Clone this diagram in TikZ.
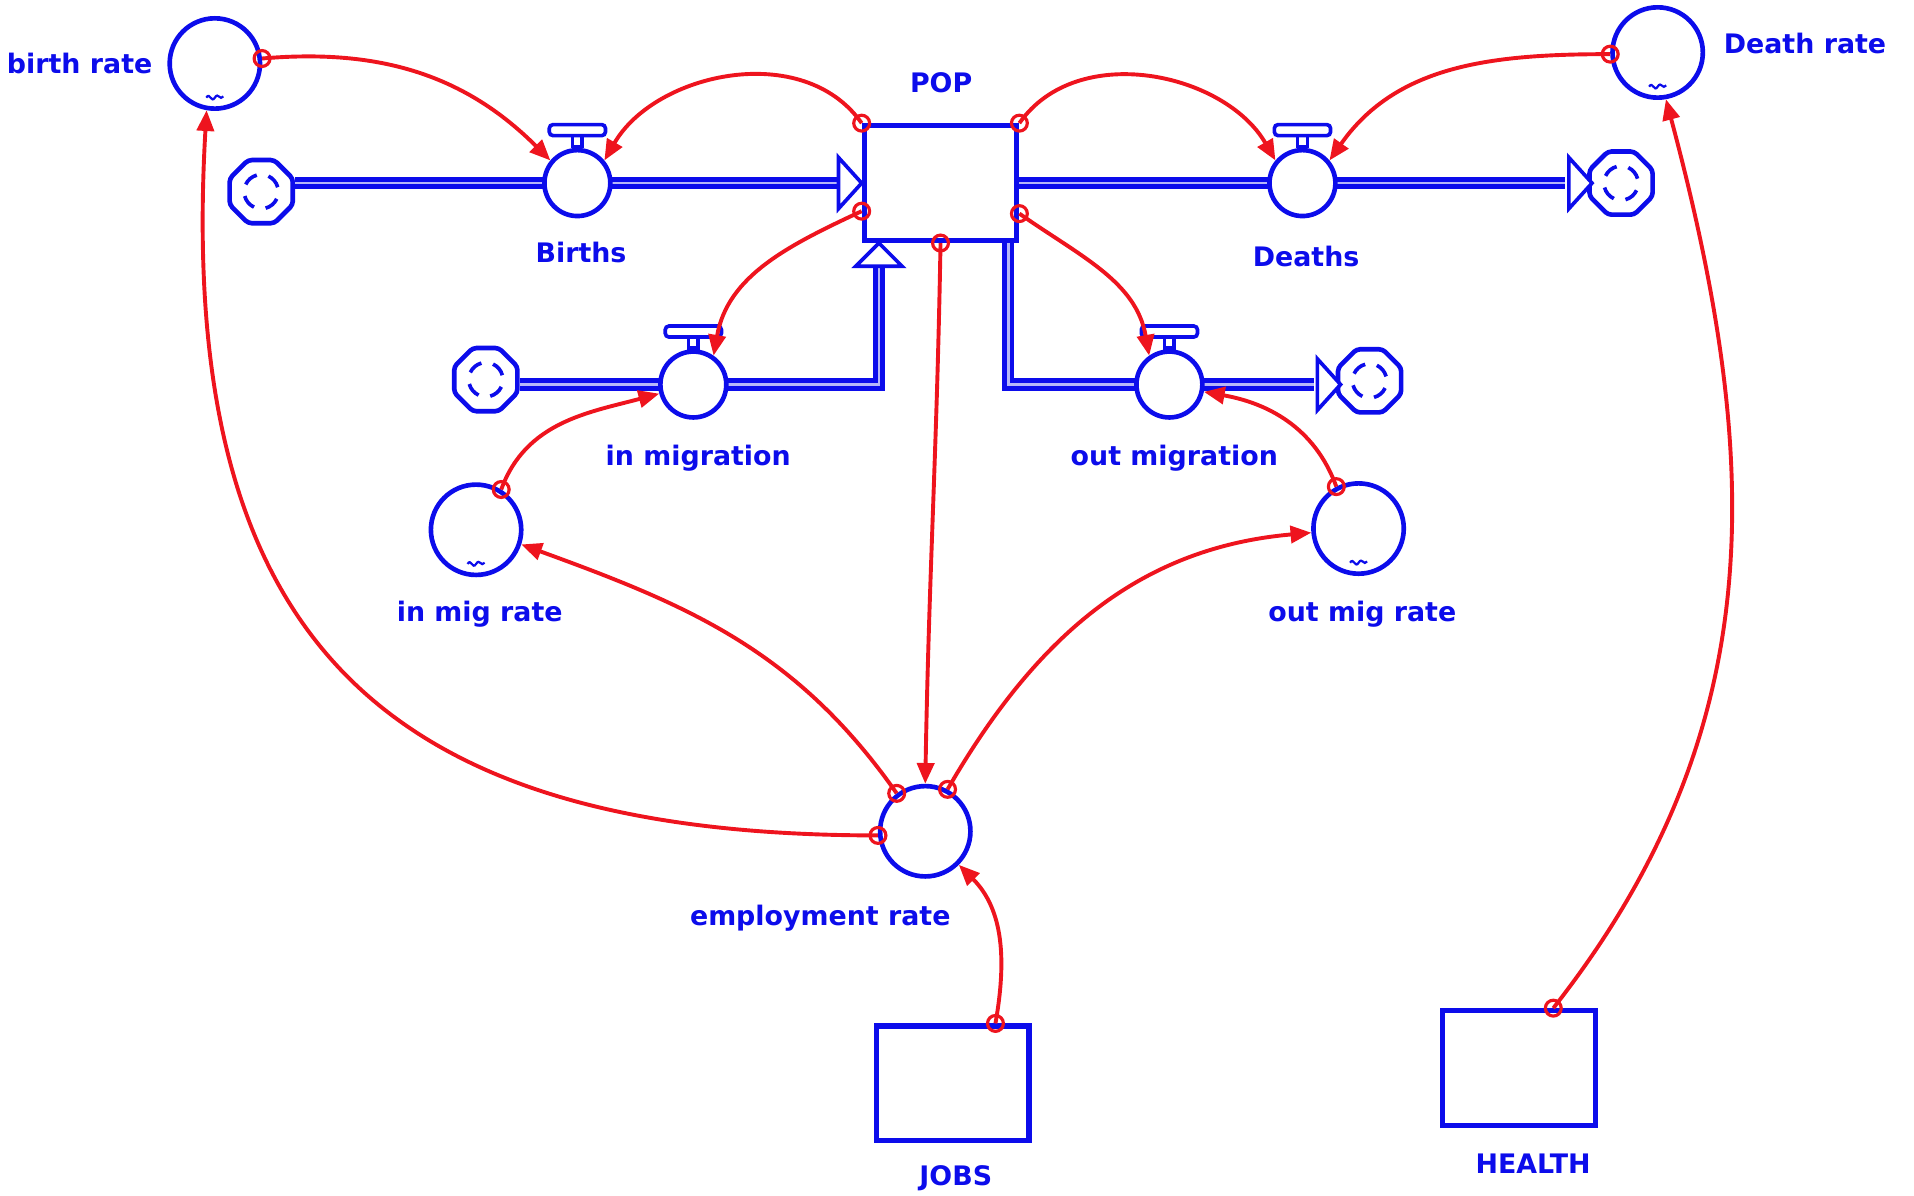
\documentclass[tikz,border=0pt]{standalone}
\usepackage{fontspec}
\setmainfont{DejaVu Sans}
\usetikzlibrary{arrows.meta,shapes.geometric,calc}
\definecolor{sdblue}{RGB}{12,12,235}
\definecolor{sdred}{RGB}{238,20,30}
\newcommand\startdot[1]{\draw[sdred,line width=2.6pt] (#1) circle (6.5pt);}
\newcommand\auxtilde[1]{\draw[sdblue,line width=1.8pt] ($(#1.center)+(-7,-28)$) .. controls +(3,5) and +(-3,-5) .. +(7,0) .. controls +(3,5) and +(-3,-4) .. +(14,1);}
\begin{document}
\begin{tikzpicture}[x=1pt,y=1pt,
  aux/.style={circle,draw=sdblue,line width=3.8pt,fill=white,minimum size=74pt,inner sep=0pt},
  valve/.style={circle,draw=sdblue,line width=3.8pt,fill=white,minimum size=54pt,inner sep=0pt},
  stock/.style={rectangle,draw=sdblue,line width=4.2pt,fill=white,minimum width=125pt,minimum height=94pt,inner sep=0pt},
  cloud/.style={regular polygon,regular polygon sides=8,draw=sdblue,line width=3.8pt,fill=white,minimum size=56pt,inner sep=0pt,rounded corners=3pt},
  lbl/.style={text=sdblue,font=\bfseries\fontsize{22}{26}\selectfont,inner sep=0pt},
  pipe/.style={draw=sdblue,line width=4pt,double=white!70!sdblue,double distance=2pt},
  tri/.style={draw=sdblue,line width=3pt,fill=white,line join=miter},
  conn/.style={draw=sdred,line width=3.2pt,-{Triangle[length=17pt,width=14pt]}},
  swirl/.style={draw=sdblue,line width=3pt},
  part/.style={draw=sdblue,line width=3pt,fill=white}
]
\useasboundingbox (0,0) rectangle (1568,-979);

% stocks
\node[stock] (pop) at (770.5,-150) {};
\node[stock] (jobs) at (780.5,-887.5) {};
\node[stock] (health) at (1244.5,-875) {};

% clouds
\node[cloud] (cb) at (214,-157) {};
\node[cloud] (cd) at (1328,-150) {};
\node[cloud] (cim) at (398,-311) {};
\node[cloud] (com) at (1122,-312) {};
\foreach \c in {cb,cd,cim,com}{
  \foreach \a in {15,105,195,285}{
    \draw[swirl] ($(\c.center)+(\a:14)$) arc (\a:\a+50:14);
  }
}

% auxiliaries
\node[aux] (br) at (176,-52) {};
\node[aux] (dr) at (1358,-43) {};
\node[aux] (imr) at (390,-434) {};
\node[aux] (omr) at (1113,-433) {};
\node[aux] (er) at (758,-681) {};
\auxtilde{br}\auxtilde{dr}\auxtilde{imr}\auxtilde{omr}

% flow coordinates
\coordinate (imc) at (720,-315);
\coordinate (omc) at (826,-315);
\coordinate (vbp) at (473,-150);
\coordinate (vdp) at (1067,-150);

% pipes
\draw[pipe] (cb.east |- vbp) -- ([xshift=-18pt]pop.west |- vbp);
\draw[tri] (pop.west |- vbp) -- ++(-19,21) -- ++(0,-42) -- cycle;
\draw[pipe] (pop.east |- vdp) -- ([xshift=-18pt]cd.west |- vdp);
\draw[tri] ([xshift=4pt]cd.west |- vdp) -- ++(-19,21) -- ++(0,-42) -- cycle;
\draw[pipe] (cim.east |- imc) -- (imc) -- ([yshift=-18pt]imc |- pop.south);
\draw[tri] (imc |- pop.south) -- ++(19,-19) -- ++(-38,0) -- cycle;
\draw[pipe] (omc |- pop.south) -- (omc) -- ([xshift=-18pt]com.west |- omc);
\draw[tri] ([xshift=4pt]com.west |- omc) -- ++(-19,21) -- ++(0,-42) -- cycle;

% valves
\node[valve] (vb) at (vbp) {};
\node[valve] (vd) at (vdp) {};
\node[valve] (vim) at (568,-315) {};
\node[valve] (vom) at (958,-315) {};
\foreach \v in {vb,vd,vim,vom}{
  \draw[part] ($(\v.north)+(-4,1)$) rectangle ($(\v.north)+(4,10)$);
  \draw[part,rounded corners=3pt] ($(\v.north)+(-23,10)$) rectangle ($(\v.north)+(23,19)$);
}

% labels
\node[lbl,anchor=east] (lbr) at (125,-52) {birth rate};
\node[lbl,anchor=west] (ldr) at (1412,-36) {Death rate};
\node[lbl] (lpop) at (771,-68) {POP};
\node[lbl] (lvb) at (476,-207) {Births};
\node[lbl] (lvd) at (1070,-210) {Deaths};
\node[lbl] (lvim) at (572,-375) {in migration};
\node[lbl] (lvom) at (962,-375) {out migration};
\node[lbl] (limr) at (393,-503) {in mig rate};
\node[lbl] (lomr) at (1116,-503) {out mig rate};
\node[lbl] (ler) at (672,-752) {employment rate};
\node[lbl] (ljobs) at (783,-965) {JOBS};
\node[lbl] (lhealth) at (1256,-953) {HEALTH};

% connectors
\draw[conn] (br.6) to[out=5,in=135] (vb.140);
\draw[conn] (pop.north west) to[out=125,in=60] (vb.40);
\draw[conn] (pop.north east) to[out=55,in=120] (vd.140);
\draw[conn] (dr.182) to[out=180,in=55] (vd.40);
\draw[conn] ([yshift=-23pt]pop.west) to[out=205,in=80] (vim.55);
\draw[conn] ([yshift=-25pt]pop.east) to[out=-35,in=100] (vom.125);
\draw[conn] (pop.south) to[out=-91,in=89] (er.north);
\draw[conn] (imr.58) to[out=70,in=195] (vim.195);
\draw[conn] (omr.118) to[out=110,in=-10] (vom.-12);
\draw[conn] (er.127) to[out=125,in=-20] (imr.-18);
\draw[conn] (er.62) to[out=60,in=185] (omr.185);
\draw[conn] (er.185) .. controls +(-410,0) and +(-25,-430) .. (br.-100);
\draw[conn] ([xshift=35pt]jobs.north) to[out=80,in=-45] (er.-45);
\draw[conn] ([xshift=28pt]health.north) .. controls +(178,227) and +(80,-300) .. (dr.-80);

% start dots
\startdot{br.6}
\startdot{pop.north west}
\startdot{pop.north east}
\startdot{dr.182}
\startdot{[yshift=-23pt]pop.west}
\startdot{[yshift=-25pt]pop.east}
\startdot{pop.south}
\startdot{imr.58}
\startdot{omr.118}
\startdot{er.127}
\startdot{er.62}
\startdot{er.185}
\startdot{[xshift=35pt]jobs.north}
\startdot{[xshift=28pt]health.north}
\end{tikzpicture}
\end{document}
